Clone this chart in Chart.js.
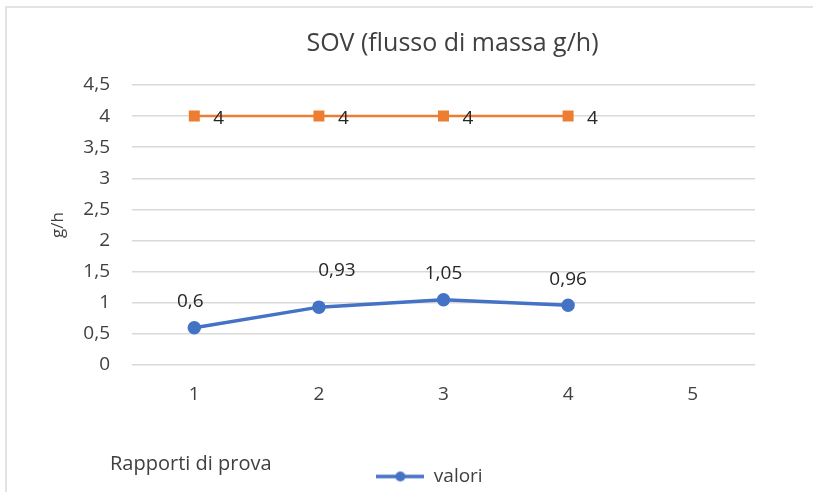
<!DOCTYPE html>
<html>
<head>
<meta charset="utf-8">
<script src="https://cdn.jsdelivr.net/npm/chart.js@4"></script>
<style>
  body { margin: 0; background: #fff; overflow: hidden; }
  .wrap { position: relative; width: 813px; height: 492px; }
  .frame {
    position: absolute; left: 5px; top: 6px; right: -4px; bottom: -4px;
    border: 2px solid #e3e3e3;
  }
  canvas { position: absolute; left: 0; top: 0; }
</style>
</head>
<body>
<div class="wrap">
  <div class="frame"></div>
  <canvas id="sovChart" width="813" height="492"></canvas>
</div>
<script>
const categories = ["1", "2", "3", "4", "5"];
const valori = [0.6, 0.93, 1.05, 0.96, null];
const limite = [4, 4, 4, 4, null];
const yTicks = [0, 0.5, 1, 1.5, 2, 2.5, 3, 3.5, 4, 4.5];
const xTitle = "Rapporti di prova";

const FONT = "'Open Sans', sans-serif";
const TEXT = "#404040";

function fmt(v) {
  return String(v).replace(".", ",");
}

// legend marker: line with a dot, like Excel
function legendMarker() {
  const c = document.createElement("canvas");
  c.width = 48;
  c.height = 12;
  const g = c.getContext("2d");
  g.strokeStyle = "#4472C4";
  g.lineWidth = 3.5;
  g.beginPath();
  g.moveTo(0, 6);
  g.lineTo(48, 6);
  g.stroke();
  g.fillStyle = "#4472C4";
  g.beginPath();
  g.arc(24, 6, 5, 0, Math.PI * 2);
  g.fill();
  return c;
}

// nudge title and legend the way Excel placed them
const nudge = {
  id: "nudge",
  afterLayout(chart) {
    const t = chart.titleBlock;
    t.left += 9;
    t.right += 9;
    const lg = chart.legend;
    lg.left -= 14;
    lg.right -= 14;
    lg.top += 4;
    lg.bottom += 4;
  },
};

// data labels next to each point + x axis title left of the plot
const pointLabels = {
  id: "pointLabels",
  afterDatasetsDraw(chart) {
    const ctx = chart.ctx;
    ctx.save();
    ctx.font = "19px " + FONT;
    ctx.fillStyle = "#262626";
    ctx.textBaseline = "middle";
    chart.data.datasets.forEach((ds, di) => {
      const meta = chart.getDatasetMeta(di);
      meta.data.forEach((pt, i) => {
        const v = ds.data[i];
        if (v == null) return;
        if (ds.labelPos === "right") {
          ctx.textAlign = "left";
          ctx.fillText(fmt(v), pt.x + 19, pt.y + 2);
        } else {
          const shift = (ds.labelShift && ds.labelShift[i]) || [0, 0];
          ctx.textAlign = "center";
          ctx.fillText(fmt(v), pt.x + shift[0], pt.y - 26 + shift[1]);
        }
      });
    });
    ctx.fillStyle = TEXT;
    ctx.font = "20px " + FONT;
    ctx.textAlign = "left";
    ctx.fillText(xTitle, chart.chartArea.left - 22, chart.chartArea.bottom + 99);
    ctx.restore();
  },
};

new Chart(document.getElementById("sovChart"), {
  type: "line",
  data: {
    labels: categories,
    datasets: [
      {
        label: "valori",
        data: valori,
        borderColor: "#4472C4",
        backgroundColor: "#4472C4",
        borderWidth: 3.5,
        pointRadius: 5,
        pointStyle: "circle",
        labelPos: "above",
        labelShift: [[-4, 0], [18, -11], [0, 0], [0, 0]],
      },
      {
        label: "limite",
        data: limite,
        borderColor: "#ED7D31",
        backgroundColor: "#ED7D31",
        borderWidth: 2.5,
        pointRadius: 6,
        pointStyle: "rect",
        labelPos: "right",
      },
    ],
  },
  options: {
    responsive: false,
    animation: false,
    layout: { padding: { left: 48, right: 58, top: 0, bottom: 0 } },
    scales: {
      x: {
        offset: true,
        grid: { display: false, drawTicks: false },
        border: { display: false },
        afterFit(scale) {
          scale.height = 94;
        },
        ticks: {
          color: TEXT,
          font: { family: FONT, size: 19 },
          padding: 18,
        },
      },
      y: {
        min: 0,
        max: 4.5,
        grid: { color: "#d9d9d9", lineWidth: 1.5, drawTicks: false },
        border: { display: false },
        afterBuildTicks(scale) {
          scale.ticks = yTicks.map((v) => ({ value: v }));
        },
        afterFit(scale) {
          scale.width = 132 - 48;
        },
        ticks: {
          color: TEXT,
          font: { family: FONT, size: 19 },
          padding: 22,
          callback: (v) => fmt(v),
        },
        title: {
          display: true,
          text: "g/h",
          color: TEXT,
          font: { family: FONT, size: 17 },
          padding: { top: 0, bottom: 0 },
        },
      },
    },
    plugins: {
      title: {
        display: true,
        fullSize: false,
        text: "SOV (flusso di massa g/h)",
        color: TEXT,
        font: { family: FONT, size: 25, weight: "normal" },
        padding: { top: 29, bottom: 26 },
      },
      legend: {
        position: "bottom",
        fullSize: false,
        labels: {
          color: TEXT,
          font: { family: FONT, size: 19 },
          usePointStyle: true,
          pointStyleWidth: 48,
          padding: 4,
          generateLabels() {
            return [
              {
                text: "valori",
                pointStyle: legendMarker(),
                fillStyle: "#4472C4",
                strokeStyle: "#4472C4",
                fontColor: TEXT,
                lineWidth: 0,
                datasetIndex: 0,
              },
            ];
          },
        },
      },
      tooltip: { enabled: false },
    },
  },
  plugins: [nudge, pointLabels],
});
</script>
</body>
</html>
